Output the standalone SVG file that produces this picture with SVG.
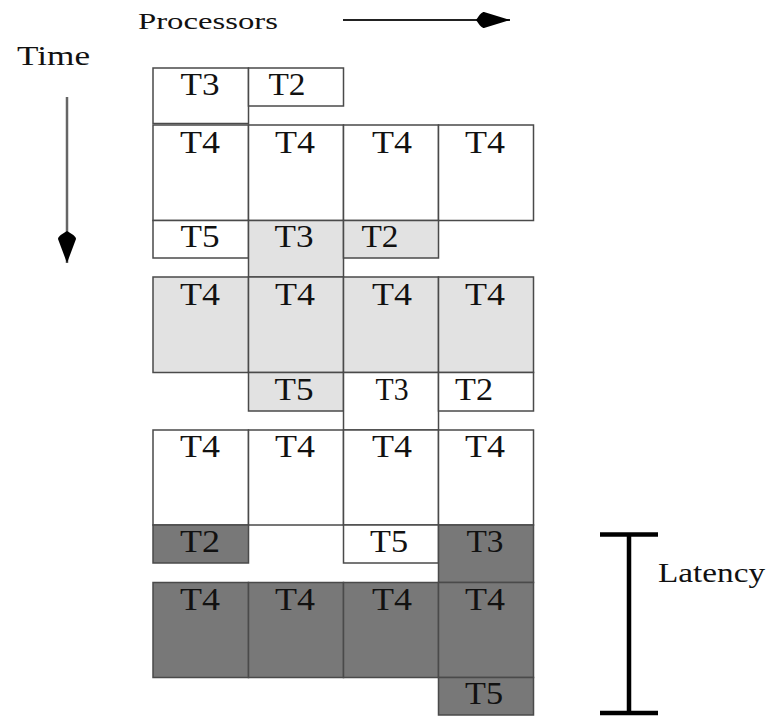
<svg xmlns="http://www.w3.org/2000/svg" width="772" height="717" viewBox="0 0 772 717">
  <style>
    .cell { stroke: #4a4a4a; stroke-width: 1.5; }
    .white { fill: #ffffff; }
    .light { fill: #e2e2e2; }
    .dark { fill: #787878; }
    .lbl { font-family: "Liberation Serif", "Times New Roman", serif; font-size: 31px; fill: #111; text-anchor: middle; }
    .axis { font-family: "Liberation Serif", "Times New Roman", serif; fill: #111; }
  </style>
  <defs>
    <marker id="headRight" viewBox="0 0 34 16" refX="34" refY="8" markerWidth="34" markerHeight="16" markerUnits="userSpaceOnUse" orient="auto">
      <path d="M0,8 C4,2 6,0 8,0 L34,8 L8,16 C6,16 4,14 0,8 Z" fill="#000"/>
    </marker>
    <marker id="headDown" viewBox="0 0 32 18" refX="32" refY="9" markerWidth="32" markerHeight="18" markerUnits="userSpaceOnUse" orient="auto">
      <path d="M0,9 C4,2 6,0 8,0 L32,9 L8,18 C6,18 4,16 0,9 Z" fill="#000"/>
    </marker>
  </defs>

  <rect width="772" height="717" fill="#ffffff"/>

  <!-- axis labels -->
  <text class="axis" x="17" y="65" font-size="28" textLength="73" lengthAdjust="spacingAndGlyphs">Time</text>
  <text class="axis" x="138" y="29" font-size="23" textLength="140" lengthAdjust="spacingAndGlyphs">Processors</text>
  <text class="axis" x="658" y="582" font-size="28" textLength="107" lengthAdjust="spacingAndGlyphs">Latency</text>

  <!-- connectors: axis arrows and latency bracket -->
  <g id="connectors">
    <line x1="343" y1="20" x2="510" y2="20" stroke="#222" stroke-width="2" marker-end="url(#headRight)"/>
    <line x1="67" y1="97" x2="67" y2="263" stroke="#666" stroke-width="2.5" marker-end="url(#headDown)"/>
    <g id="latency" stroke="#000" stroke-width="4.5">
      <line x1="600" y1="534.5" x2="658" y2="534.5"/>
      <line x1="629" y1="534.5" x2="629" y2="713"/>
      <line x1="600" y1="713" x2="658" y2="713"/>
    </g>
  </g>

  <!-- step 1 -->
  <g id="s1-t3"><rect class="cell white" x="153" y="68" width="95.5" height="55.5"/><text class="lbl" x="200" y="95" textLength="39" lengthAdjust="spacingAndGlyphs">T3</text></g>
  <g id="s1-t2"><rect class="cell white" x="248.5" y="68" width="95" height="38"/><text class="lbl" x="287" y="95" textLength="37" lengthAdjust="spacingAndGlyphs">T2</text></g>

  <g id="s1-t4a"><rect class="cell white" x="153" y="125" width="95.5" height="95.5"/><text class="lbl" x="200" y="153" textLength="40" lengthAdjust="spacingAndGlyphs">T4</text></g>
  <g id="s1-t4b"><rect class="cell white" x="248.5" y="125" width="95" height="95.5"/><text class="lbl" x="295" y="153" textLength="40" lengthAdjust="spacingAndGlyphs">T4</text></g>
  <g id="s1-t4c"><rect class="cell white" x="343.5" y="125" width="95" height="95.5"/><text class="lbl" x="392" y="153" textLength="40" lengthAdjust="spacingAndGlyphs">T4</text></g>
  <g id="s1-t4d"><rect class="cell white" x="438.5" y="125" width="95" height="95.5"/><text class="lbl" x="485" y="153" textLength="40" lengthAdjust="spacingAndGlyphs">T4</text></g>

  <!-- step 2 -->
  <g id="s1-t5"><rect class="cell white" x="153" y="220.5" width="95.5" height="37.5"/><text class="lbl" x="200" y="247" textLength="39" lengthAdjust="spacingAndGlyphs">T5</text></g>
  <g id="s2-t3"><rect class="cell light" x="248.5" y="220.5" width="95" height="56.5"/><text class="lbl" x="294" y="247" textLength="39" lengthAdjust="spacingAndGlyphs">T3</text></g>
  <g id="s2-t2"><rect class="cell light" x="343.5" y="220.5" width="95" height="37.5"/><text class="lbl" x="380" y="247" textLength="37" lengthAdjust="spacingAndGlyphs">T2</text></g>

  <g id="s2-t4a"><rect class="cell light" x="153" y="277" width="95.5" height="95.5"/><text class="lbl" x="200" y="305" textLength="40" lengthAdjust="spacingAndGlyphs">T4</text></g>
  <g id="s2-t4b"><rect class="cell light" x="248.5" y="277" width="95" height="95.5"/><text class="lbl" x="295" y="305" textLength="40" lengthAdjust="spacingAndGlyphs">T4</text></g>
  <g id="s2-t4c"><rect class="cell light" x="343.5" y="277" width="95" height="95.5"/><text class="lbl" x="392" y="305" textLength="40" lengthAdjust="spacingAndGlyphs">T4</text></g>
  <g id="s2-t4d"><rect class="cell light" x="438.5" y="277" width="95" height="95.5"/><text class="lbl" x="485" y="305" textLength="40" lengthAdjust="spacingAndGlyphs">T4</text></g>

  <!-- step 3 -->
  <g id="s2-t5"><rect class="cell light" x="248.5" y="372.5" width="95" height="38.5"/><text class="lbl" x="294" y="400" textLength="39" lengthAdjust="spacingAndGlyphs">T5</text></g>
  <g id="s3-t3"><rect class="cell white" x="343.5" y="372.5" width="95" height="57.5"/><text class="lbl" x="392" y="400" textLength="33" lengthAdjust="spacingAndGlyphs">T3</text></g>
  <g id="s3-t2"><rect class="cell white" x="438.5" y="372.5" width="95" height="38.5"/><text class="lbl" x="474" y="400" textLength="38" lengthAdjust="spacingAndGlyphs">T2</text></g>

  <g id="s3-t4a"><rect class="cell white" x="153" y="430" width="95.5" height="95"/><text class="lbl" x="200" y="457" textLength="40" lengthAdjust="spacingAndGlyphs">T4</text></g>
  <g id="s3-t4b"><rect class="cell white" x="248.5" y="430" width="95" height="95"/><text class="lbl" x="295" y="457" textLength="40" lengthAdjust="spacingAndGlyphs">T4</text></g>
  <g id="s3-t4c"><rect class="cell white" x="343.5" y="430" width="95" height="95"/><text class="lbl" x="392" y="457" textLength="40" lengthAdjust="spacingAndGlyphs">T4</text></g>
  <g id="s3-t4d"><rect class="cell white" x="438.5" y="430" width="95" height="95"/><text class="lbl" x="485" y="457" textLength="40" lengthAdjust="spacingAndGlyphs">T4</text></g>

  <!-- step 4 -->
  <g id="s4-t2"><rect class="cell dark" x="153" y="525" width="95.5" height="38"/><text class="lbl" x="200" y="552" textLength="40" lengthAdjust="spacingAndGlyphs">T2</text></g>
  <g id="s3-t5"><rect class="cell white" x="343.5" y="525" width="95" height="38"/><text class="lbl" x="389" y="552" textLength="38" lengthAdjust="spacingAndGlyphs">T5</text></g>
  <g id="s4-t3"><rect class="cell dark" x="438.5" y="525" width="95" height="57.5"/><text class="lbl" x="485" y="552" textLength="37" lengthAdjust="spacingAndGlyphs">T3</text></g>

  <g id="s4-t4a"><rect class="cell dark" x="153" y="582.5" width="95.5" height="95"/><text class="lbl" x="200" y="610" textLength="40" lengthAdjust="spacingAndGlyphs">T4</text></g>
  <g id="s4-t4b"><rect class="cell dark" x="248.5" y="582.5" width="95" height="95"/><text class="lbl" x="295" y="610" textLength="40" lengthAdjust="spacingAndGlyphs">T4</text></g>
  <g id="s4-t4c"><rect class="cell dark" x="343.5" y="582.5" width="95" height="95"/><text class="lbl" x="392" y="610" textLength="40" lengthAdjust="spacingAndGlyphs">T4</text></g>
  <g id="s4-t4d"><rect class="cell dark" x="438.5" y="582.5" width="95" height="95"/><text class="lbl" x="485" y="610" textLength="40" lengthAdjust="spacingAndGlyphs">T4</text></g>

  <g id="s4-t5"><rect class="cell dark" x="438.5" y="677.5" width="95" height="37.5"/><text class="lbl" x="484" y="704" textLength="38" lengthAdjust="spacingAndGlyphs">T5</text></g>
</svg>
